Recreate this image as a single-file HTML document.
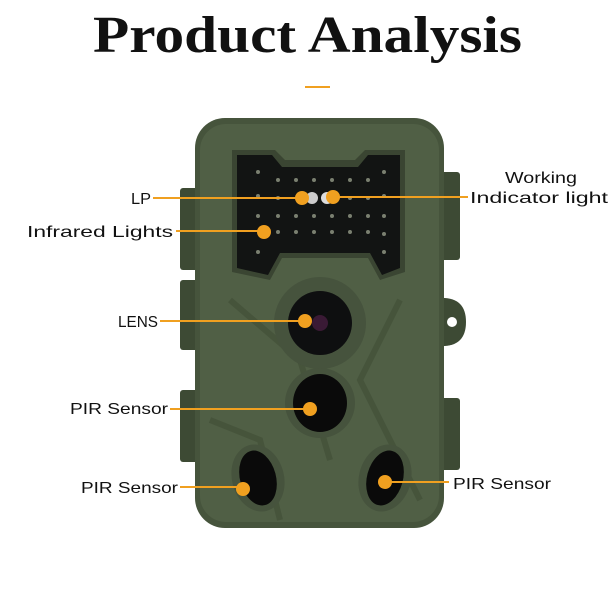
<!DOCTYPE html>
<html><head><style>
html,body{margin:0;padding:0;background:#fff;width:610px;height:610px;overflow:hidden}
svg{display:block}
text{font-family:"Liberation Sans",sans-serif;fill:#111}
.l{font-size:16px}
</style></head><body>
<svg width="610" height="610" viewBox="0 0 610 610">
<text x="93" y="52" textLength="429" lengthAdjust="spacingAndGlyphs" style="font-family:'Liberation Serif',serif;font-size:52px;font-weight:bold">Product Analysis</text>
<rect x="305" y="86" width="25" height="2" fill="#f0a020"/>
<g fill="#3d4a34">
<rect x="180" y="188" width="20" height="82" rx="3"/>
<rect x="180" y="280" width="20" height="70" rx="3"/>
<rect x="180" y="390" width="20" height="72" rx="3"/>
<rect x="438" y="172" width="22" height="88" rx="3"/>
<rect x="438" y="398" width="22" height="72" rx="3"/>
<path d="M438 298 Q466 296 466 322 Q466 348 438 346Z"/>
</g>
<circle cx="452" cy="322" r="5" fill="#fff"/>
<rect x="195" y="118" width="249" height="410" rx="30" fill="#46543c"/>
<rect x="200" y="124" width="239" height="398" rx="26" fill="#505f45"/>
<path d="M230 300 L300 360 L330 460 M400 300 L360 380 L420 500 M210 420 L260 440 L280 520" stroke="#3f4c36" stroke-width="6" fill="none" opacity=".6"/>
<path d="M232 150 L275 150 L285 160 L355 160 L365 150 L405 150 L405 272 L380 280 L368 258 L282 258 L270 280 L232 272Z" fill="#3a4532"/>
<path d="M237 155 L272 155 L282 167 L358 167 L368 155 L400 155 L400 268 L382 275 L370 253 L280 253 L268 275 L237 268Z" fill="#121413"/>
<g fill="#7a8070">
<circle cx="258" cy="172" r="2"/><circle cx="278" cy="180" r="2"/><circle cx="296" cy="180" r="2"/><circle cx="314" cy="180" r="2"/><circle cx="332" cy="180" r="2"/><circle cx="350" cy="180" r="2"/><circle cx="368" cy="180" r="2"/><circle cx="384" cy="172" r="2"/>
<circle cx="258" cy="196" r="2"/><circle cx="278" cy="198" r="2"/><circle cx="350" cy="198" r="2"/><circle cx="368" cy="198" r="2"/><circle cx="384" cy="196" r="2"/>
<circle cx="258" cy="216" r="2"/><circle cx="278" cy="216" r="2"/><circle cx="296" cy="216" r="2"/><circle cx="314" cy="216" r="2"/><circle cx="332" cy="216" r="2"/><circle cx="350" cy="216" r="2"/><circle cx="368" cy="216" r="2"/><circle cx="384" cy="216" r="2"/>
<circle cx="278" cy="232" r="2"/><circle cx="296" cy="232" r="2"/><circle cx="314" cy="232" r="2"/><circle cx="332" cy="232" r="2"/><circle cx="350" cy="232" r="2"/><circle cx="368" cy="232" r="2"/><circle cx="384" cy="234" r="2"/><circle cx="258" cy="252" r="2"/><circle cx="384" cy="252" r="2"/>
</g>
<circle cx="312" cy="198" r="6" fill="#ccc"/><circle cx="327" cy="198" r="6" fill="#ddd"/>
<circle cx="320" cy="323" r="46" fill="#46533d"/>
<circle cx="320" cy="323" r="32" fill="#0e0f10"/>
<circle cx="320" cy="323" r="8" fill="#3a1a35"/>
<circle cx="320" cy="403" r="35" fill="#46533d"/>
<ellipse cx="320" cy="403" rx="27" ry="29" fill="#0a0a0a"/>
<ellipse cx="258" cy="478" rx="26" ry="34" fill="#46533d" transform="rotate(-15 258 478)"/>
<ellipse cx="258" cy="478" rx="18" ry="28" fill="#0a0a0a" transform="rotate(-15 258 478)"/>
<ellipse cx="385" cy="478" rx="26" ry="34" fill="#46533d" transform="rotate(15 385 478)"/>
<ellipse cx="385" cy="478" rx="18" ry="28" fill="#0a0a0a" transform="rotate(15 385 478)"/>
<g stroke="#f0a020" stroke-width="2">
<line x1="153" y1="198" x2="302" y2="198"/>
<line x1="333" y1="197" x2="468" y2="197"/>
<line x1="176" y1="231" x2="264" y2="231"/>
<line x1="160" y1="321" x2="305" y2="321"/>
<line x1="170" y1="409" x2="310" y2="409"/>
<line x1="180" y1="487" x2="243" y2="487"/>
<line x1="385" y1="482" x2="449" y2="482"/>
</g>
<g fill="#f0a020">
<circle cx="302" cy="198" r="7"/><circle cx="333" cy="197" r="7"/><circle cx="264" cy="232" r="7"/><circle cx="305" cy="321" r="7"/><circle cx="310" cy="409" r="7"/><circle cx="243" cy="489" r="7"/><circle cx="385" cy="482" r="7"/>
</g>
<g lengthAdjust="spacingAndGlyphs">
<text class="l" x="131" y="204" textLength="20" lengthAdjust="spacingAndGlyphs">LP</text>
<text class="l" x="27" y="237" textLength="146" lengthAdjust="spacingAndGlyphs">Infrared Lights</text>
<text class="l" x="118" y="327" textLength="40" lengthAdjust="spacingAndGlyphs">LENS</text>
<text class="l" x="70" y="414" textLength="98" lengthAdjust="spacingAndGlyphs">PIR Sensor</text>
<text class="l" x="81" y="493" textLength="97" lengthAdjust="spacingAndGlyphs">PIR Sensor</text>
<text class="l" x="453" y="489" textLength="98" lengthAdjust="spacingAndGlyphs">PIR Sensor</text>
<text class="l" x="505" y="183" textLength="72" lengthAdjust="spacingAndGlyphs">Working</text>
<text class="l" x="470" y="203" textLength="138" lengthAdjust="spacingAndGlyphs">Indicator light</text>
</g>
</svg>
</body></html>
